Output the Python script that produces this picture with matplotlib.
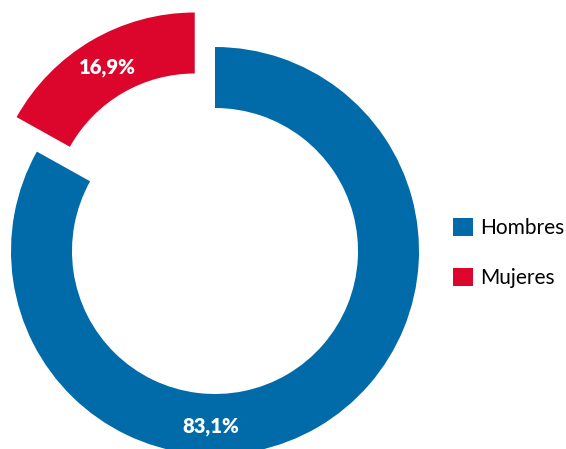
import matplotlib.pyplot as plt
import numpy as np

# datos
etiquetas = ['Hombres', 'Mujeres']
valores = [83.1, 16.9]
textos = ['83,1%', '16,9%']
colores = ['#006BA8', '#DC062D']

plt.rcParams['font.family'] = ['Lato', 'DejaVu Sans']

fig = plt.figure(figsize=(5.66, 4.49), dpi=100)
ax = fig.add_axes([0, 0, 1, 1])

# unidades en pixeles, centro del anillo en (215, 251) desde arriba-izquierda
cx, cy = 215, 251
R = 204
ancho = 61
wedges, _ = ax.pie(valores, colors=colores, radius=R, startangle=90,
                   counterclock=False, explode=[0, 40],
                   wedgeprops=dict(width=ancho, linewidth=0))

# etiquetas dentro del anillo
r_lab = R - ancho / 2
# Hombres: abajo del anillo
ax.text(-4, -r_lab - 2, textos[0], color='white', fontsize=14.5, fontweight='heavy',
        ha='center', va='center')
# Mujeres: en medio del sector desplazado
ang = np.deg2rad(90 + 360 * (valores[1] / 2) / 100)
ax.text((r_lab + 40) * np.cos(ang), (r_lab + 40) * np.sin(ang) - 1, textos[1],
        color='white', fontsize=14.5, fontweight='heavy', ha='center', va='center')

ax.set_xlim(-cx, 566 - cx)
ax.set_ylim(-(449 - cy), cy)
ax.set_aspect('equal')
ax.axis('off')

fig.legend(wedges, etiquetas, loc='center left', bbox_to_anchor=(453 / 566, 1 - 253 / 449),
           frameon=False, fontsize=15, handlelength=0.97, handleheight=0.97,
           labelspacing=1.45, handletextpad=0.35, borderpad=0, borderaxespad=0)

plt.savefig('out.png', dpi=100)
